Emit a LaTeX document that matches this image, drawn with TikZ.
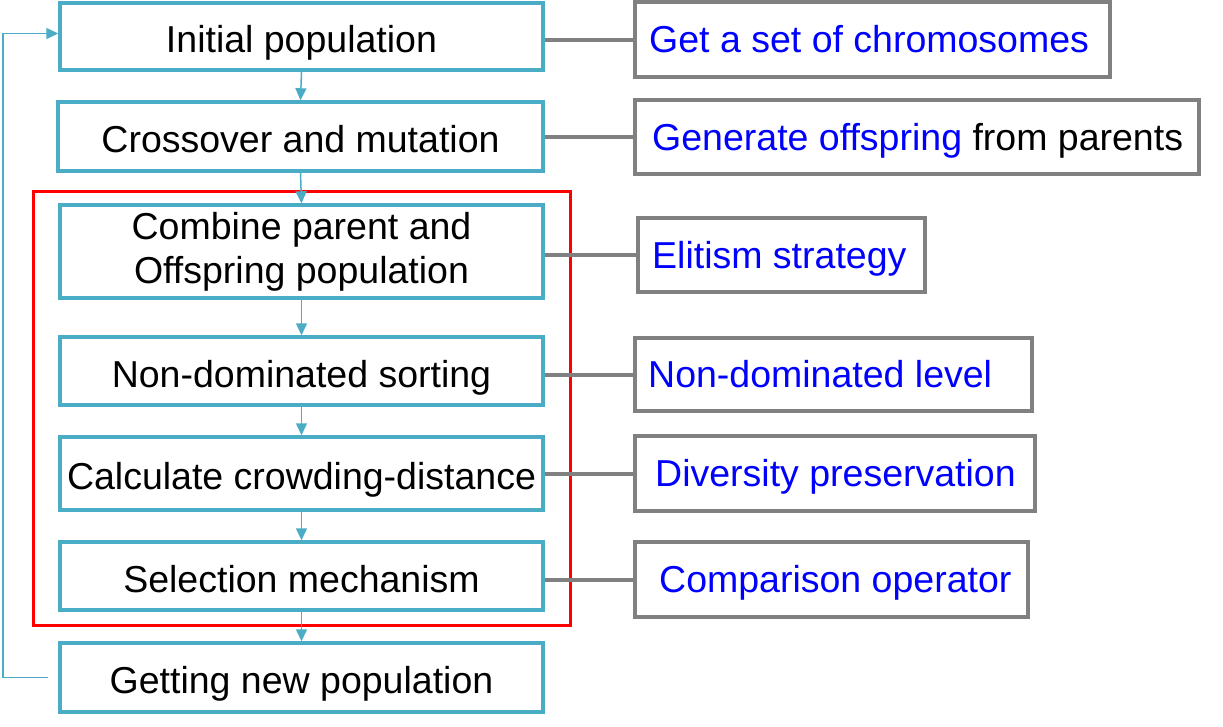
\documentclass[tikz,border=0pt]{standalone}
\usepackage{fontspec}
\setmainfont{Liberation Sans}
\usetikzlibrary{arrows.meta}
\definecolor{teal1}{HTML}{4BACC6}
\definecolor{gray1}{HTML}{808080}
\definecolor{blue1}{HTML}{0000FF}
\definecolor{red1}{HTML}{FF0000}
\begin{document}
\begin{tikzpicture}[x=1pt,y=-1pt,
  lbox/.style={draw=teal1, line width=3.5pt, minimum width=483pt, inner sep=0pt, align=center,
    font=\fontsize{37.5}{44}\selectfont},
  lone/.style={text height=40pt, text depth=8pt},
  rbox/.style={draw=gray1, line width=4pt, inner sep=0pt},
  rtext/.style={anchor=west, inner sep=0pt, text=blue1, text height=34pt, text depth=8pt,
    font=\fontsize{37.5}{44}\selectfont},
  flow/.style={draw=teal1, line width=1.5pt, -{Triangle[length=12pt,width=11pt]}},
  link/.style={draw=gray1, line width=4pt},
  redframe/.style={draw=red1, line width=3pt, inner sep=0pt}]
\useasboundingbox (0,0) rectangle (1223,726);
% red frame
\node[redframe, minimum width=537pt, minimum height=434pt] (frame) at (301.5,408) {};
% left boxes
\node[lbox, lone, minimum height=67pt] (l1) at (301.5,36.5) {Initial population};
\node[lbox, lone, minimum height=69pt, minimum width=485pt] (l2) at (300.5,136.5) {Crossover and mutation};
\node[lbox, minimum height=93pt] (l3) at (301.5,251.5) {Combine parent and\\Offspring population};
\node[lbox, lone, minimum height=68pt] (l4) at (301.5,371) {Non-dominated sorting};
\node[lbox, lone, minimum height=73pt] (l5) at (301.5,473.5) {Calculate crowding-distance};
\node[lbox, lone, minimum height=68pt] (l6) at (301.5,576) {Selection mechanism};
\node[lbox, lone, minimum height=69pt] (l7) at (301.5,677.5) {Getting new population};
% right boxes
\node[rbox, minimum width=475pt, minimum height=75pt] (r1) at (872.5,39.5) {};
\node[rbox, minimum width=564pt, minimum height=74pt] (r2) at (917,137) {};
\node[rbox, minimum width=287pt, minimum height=74pt] (r3) at (781.5,255) {};
\node[rbox, minimum width=397pt, minimum height=73pt] (r4) at (833.5,374.5) {};
\node[rbox, minimum width=400pt, minimum height=75pt] (r5) at (835,473.5) {};
\node[rbox, minimum width=393pt, minimum height=75pt] (r6) at (831.5,579.5) {};
\node[rtext] (t1) at ([xshift=16pt]r1.west) {Get a set of chromosomes};
\node[rtext] (t2) at ([xshift=19pt]r2.west) {Generate offspring \textcolor{black}{from parents}};
\node[rtext] (t3) at ([xshift=16pt]r3.west) {Elitism strategy};
\node[rtext] (t4) at ([xshift=15pt]r4.west) {Non-dominated level};
\node[rtext] (t5) at ([xshift=22pt]r5.west) {Diversity preservation};
\node[rtext] (t6) at ([xshift=26pt]r6.west) {Comparison operator};
% links
\foreach \i in {1,...,6}{
  \draw[link] (r\i.west) -- (r\i.west -| l\i.east);
}
% flow arrows
\draw[flow] (l1.south) -- (l2.north);
\draw[flow] (l2.south) -- (l3.north);
\draw[flow] (l3.south) -- (l4.north);
\draw[flow] (l4.south) -- (l5.north);
\draw[flow] (l5.south) -- (l6.north);
\draw[flow] (l6.south) -- (l7.north);
% feedback
\coordinate (fb) at (3,0);
\coordinate (fbs) at ([xshift=-10pt]l7.west);
\draw[flow] (fbs) -- (fbs -| fb) |- ([yshift=3pt]l1.west);
\end{tikzpicture}
\end{document}
